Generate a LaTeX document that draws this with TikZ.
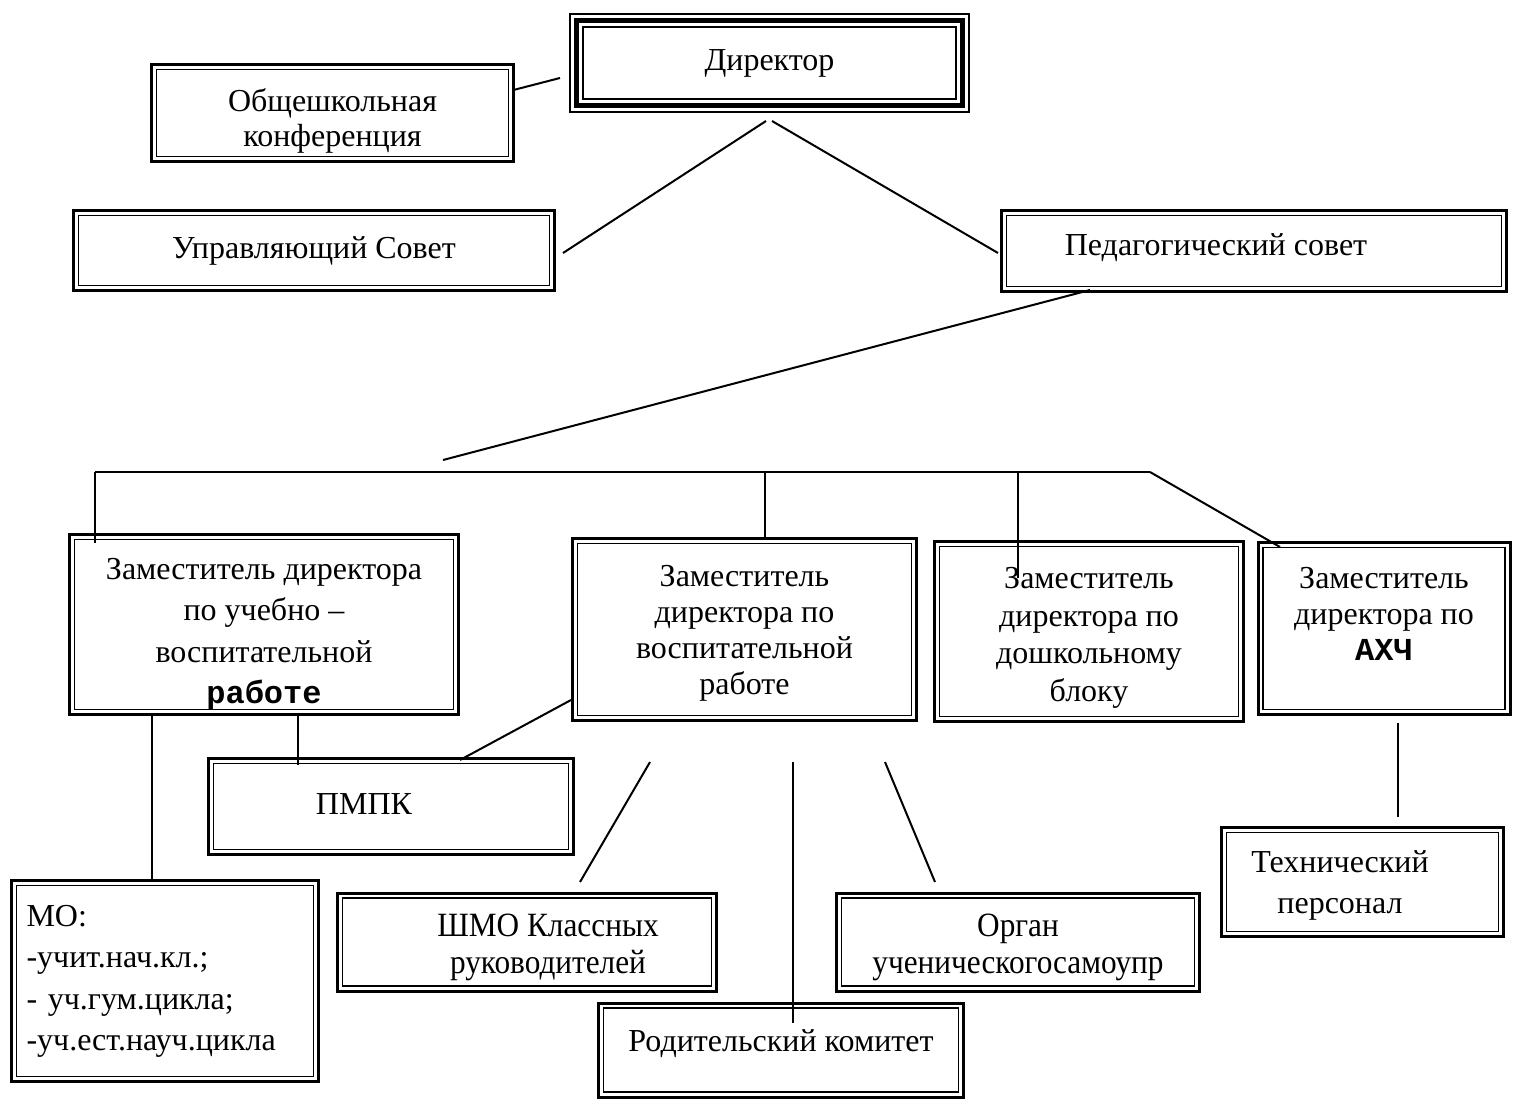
\documentclass[tikz,border=0pt]{standalone}
\usepackage{fontspec}
\setmainfont{Liberation Serif}
\newfontfamily\couriermono{Liberation Mono}
\newfontfamily\narrowserif[FakeStretch=0.92]{Liberation Serif}

\begin{document}
\begin{tikzpicture}[x=0.5pt, y=-0.5pt,
		every node/.style={font=\fontsize{16}{18.5}\selectfont},
		dbox/.style={draw, line width=1.5pt, outer sep=0pt, inner xsep=2pt, inner ysep=0pt, align=center,
			append after command={\pgfextra{\draw[line width=0.75pt]
				([shift={(2.6pt,-2.6pt)}]\tikzlastnode.north west) rectangle
				([shift={(-2.6pt,2.6pt)}]\tikzlastnode.south east);}}},
		tbox/.style={draw, line width=1pt, outer sep=0pt, align=center,
			append after command={\pgfextra{\draw[line width=2.5pt]
				([shift={(3.3pt,-3.3pt)}]\tikzlastnode.north west) rectangle
				([shift={(-3.3pt,3.3pt)}]\tikzlastnode.south east);
				\draw[line width=1pt]
				([shift={(6.5pt,-6.5pt)}]\tikzlastnode.north west) rectangle
				([shift={(-6.5pt,6.5pt)}]\tikzlastnode.south east);}}},
		wide/.style={font=\fontsize{16}{20.75}\selectfont},
		narrow/.style={font=\narrowserif\fontsize{17}{18.5}\selectfont},
		link/.style={line width=1pt}]
		
		\useasboundingbox (0,0) rectangle (1515,1098);
		
		%director
		\node[tbox, minimum width=199.5pt, minimum height=49pt] (dir) at (769.5,63) {Директор};
		%conference
		\node[dbox, minimum width=181pt, minimum height=48.5pt, text height=36.5pt, font=\fontsize{16}{17.5}\selectfont] (conf) at (332.5,113) {Общешкольная\\конференция};
		%councils
		\node[dbox, minimum width=240.5pt, minimum height=40pt] (upr) at (314,250.5) {Управляющий Совет};
		\node[dbox, minimum width=252.5pt, minimum height=40.5pt, text height=7.6pt] (ped) at (1254,251) {Педагогический совет\hspace*{38pt}};
		
		%deputies
		\node[dbox, wide, minimum width=194.5pt, minimum height=90pt, text height=84.25pt, text depth=5pt] (zuvr) at (264,624.5) {Заместитель директора\\по учебно –\\воспитательной\\{\couriermono\bfseries работе}};
		\node[dbox, minimum width=172pt, minimum height=91pt, text height=68.6pt, font=\fontsize{16}{18}\selectfont] (zvr) at (744.5,629.5) {Заместитель\\директора по\\воспитательной\\работе};
		\node[dbox, minimum width=154.5pt, minimum height=90pt, text height=73.25pt, font=\fontsize{16}{18.75}\selectfont] (zdb) at (1089,631.5) {Заместитель\\директора по\\дошкольному\\блоку};
		\node[dbox, minimum width=126pt, minimum height=86pt, text height=32pt, font=\fontsize{16}{18}\selectfont] (zahch) at (1384,628.5) {Заместитель\\директора по\\{\couriermono\bfseries АХЧ}};
		
		%lower level
		\node[dbox, minimum width=182.5pt, minimum height=48pt, text height=8pt] (pmpk) at (391,806.5) {ПМПК\hspace*{27pt}};
		\node[dbox, minimum width=141pt, minimum height=54.5pt, text height=35.1pt, font=\fontsize{16}{20.5}\selectfont] (tech) at (1362.5,882) {Технический\hspace*{22.5pt}\\персонал\hspace*{22.5pt}};
		\node[dbox, wide, minimum width=153.5pt, minimum height=100.5pt, text height=11pt, align=left, text width=138.5pt, inner xsep=7.5pt] (mo) at (165,981) {МО:\\-учит.нач.кл.;\\- уч.гум.цикла;\\-уч.ест.науч.цикла};
		\node[dbox, narrow, minimum width=189.5pt, minimum height=49pt, text height=35pt, text depth=4pt] (shmo) at (527,942) {\hspace*{21pt}ШМО Классных\\\hspace*{21pt}руководителей};
		\node[dbox, narrow, minimum width=181.5pt, minimum height=49pt, text height=35pt, text depth=4pt, inner xsep=1pt] (organ) at (1018,942) {Орган\\ученическогосамоупр};
		\node[dbox, minimum width=182.5pt, minimum height=47pt, text height=4.6pt] (rod) at (781,1050) {Родительский комитет};
		
		%free line ends
		\coordinate (cd) at (560,78);
		\coordinate (da) at (766,121);
		\coordinate (db) at (772,121);
		\coordinate (ua) at (563,253);
		\coordinate (pb) at (998,253);
		\coordinate (pc) at (1090,290);
		\coordinate (bc) at (443,460);
		\coordinate (b0) at (95,472);
		\coordinate (b1) at (765,472);
		\coordinate (b2) at (1018,472);
		\coordinate (b3) at (1150,472);
		\coordinate (e0) at (95,543);
		\coordinate (e1) at (765,537);
		\coordinate (e2) at (1018,578);
		\coordinate (e3) at (1280,547);
		\coordinate (m0) at (152,880);
		\coordinate (p1) at (298,765);
		\coordinate (v0) at (571,700);
		\coordinate (p2) at (460,760);
		\coordinate (s0) at (650,762);
		\coordinate (s1) at (580,882);
		\coordinate (r0) at (793,762);
		\coordinate (r1) at (793,1023);
		\coordinate (o0) at (885,762);
		\coordinate (o1) at (935,882);
		\coordinate (a0) at (1398,723);
		\coordinate (t0) at (1398,817);
		
		\draw[link] ([yshift=11.5pt]conf.east) -- (cd);
		\draw[link] (da) -- (ua);
		\draw[link] (db) -- (pb);
		\draw[link] (pc) -- (bc);
		\draw[link] (b0) -- (b3);
		\draw[link] (b0) -- (e0);
		\draw[link] (b1) -- (e1);
		\draw[link] (b2) -- (e2);
		\draw[link] (b3) -- (e3);
		\draw[link] (m0 |- zuvr.south) -- (m0);
		\draw[link] (p1 |- zuvr.south) -- (p1);
		\draw[link] (v0) -- (p2);
		\draw[link] (s0) -- (s1);
		\draw[link] (r0) -- (r1);
		\draw[link] (o0) -- (o1);
		\draw[link] (a0) -- (t0);
		
\end{tikzpicture}
\end{document}
